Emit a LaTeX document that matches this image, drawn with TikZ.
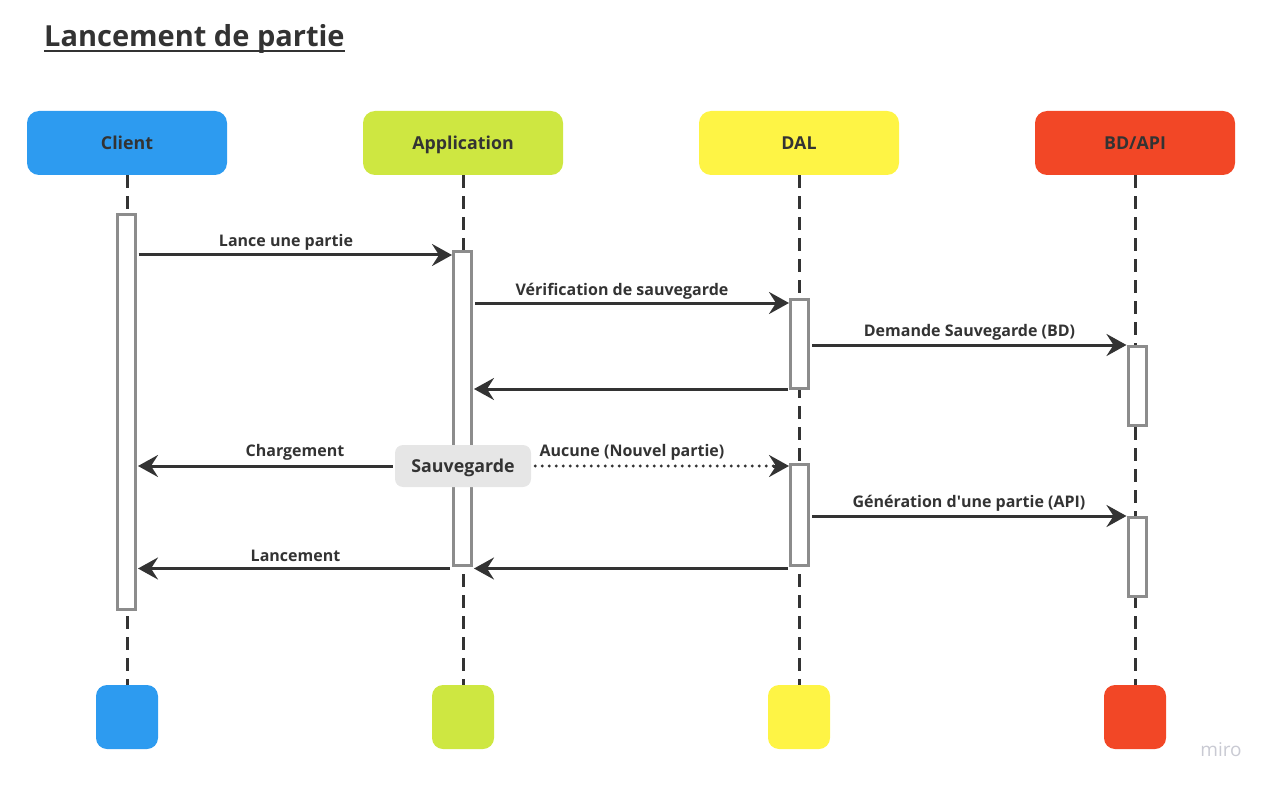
\documentclass[tikz,border=0pt]{standalone}
\usepackage{fontspec}
\setmainfont{Open Sans}
\usetikzlibrary{arrows.meta,calc}
\definecolor{cblue}{HTML}{2D9BF0}
\definecolor{cgreen}{HTML}{CEE741}
\definecolor{cyellow}{HTML}{FEF445}
\definecolor{cred}{HTML}{F24726}
\definecolor{ink}{HTML}{333333}
\definecolor{actgray}{HTML}{8C8C8C}
\definecolor{svgray}{HTML}{E6E6E6}
\definecolor{mirogray}{HTML}{C9CAD3}
\newcommand{\straightquote}{\XeTeXglyph\XeTeXcharglyph"27\relax}
\begin{document}
\begin{tikzpicture}[x=1pt,y=-1pt,
 head/.style={rounded corners=12pt, minimum width=200pt, minimum height=64pt, inner sep=0pt, text height=13pt, text depth=0pt, font=\fontsize{17.8}{20}\selectfont\bfseries, text=ink},
 foot/.style={rounded corners=11pt, minimum width=62pt, minimum height=64pt, inner sep=0pt},
 life/.style={ink, line width=3pt, dash pattern=on 13pt off 8pt},
 act/.style={draw=actgray, fill=white, line width=3pt, minimum width=18pt, inner sep=0pt},
 msg/.style={ink, line width=3pt, -{Stealth[length=20pt,width=22pt,inset=7pt]}},
 dotmsg/.style={ink, line width=3.3pt, line cap=round, dash pattern=on 0pt off 7pt},
 tipmsg/.style={ink, line width=3pt, -{Stealth[length=20pt,width=22pt,inset=7pt]}},
 lbl/.style={font=\fontsize{16}{19}\selectfont\bfseries, text=ink, inner sep=0pt, anchor=base},
]
\useasboundingbox (0,0) rectangle (1271,786);

% title
\node[font=\fontsize{29}{34}\selectfont\bfseries, text=ink, inner sep=0pt, anchor=base west] (title) at (44,47) {Lancement de partie};
\draw[ink, line width=2pt] ($(title.base west)+(0,4)$) -- ($(title.base east)+(0,4)$);

% headers
\node[head, fill=cblue] (hc) at (127,143) {Client};
\node[head, fill=cgreen] (ha) at (463,143) {Application};
\node[head, fill=cyellow] (hd) at (799,143) {DAL};
\node[head, fill=cred] (hb) at (1135,143) {BD/API};

% footers
\node[foot, fill=cblue] (fc) at (127,717) {};
\node[foot, fill=cgreen] (fa) at (463,717) {};
\node[foot, fill=cyellow] (fd) at (799,717) {};
\node[foot, fill=cred] (fb) at (1135,717) {};

% lifelines
\draw[life] (hc.south) -- (fc.north);
\draw[life] (ha.south) -- (fa.north);
\draw[life] (hd.south) -- (fd.north);
\draw[life] (hb.south) -- (fb.north);

% activations
\node[act, minimum height=395pt] (ac) at (126.5,412) {};
\node[act, minimum height=314pt] (aa) at (462.5,408.5) {};
\node[act, minimum height=89pt] (ad1) at (799.5,344) {};
\node[act, minimum height=101pt] (ad2) at (799.5,515) {};
\node[act, minimum height=79pt] (ab1) at (1137,386) {};
\node[act, minimum height=79pt] (ab2) at (1137,557) {};

% message levels
\coordinate (m1) at (0,255);
\coordinate (m2) at (0,303);
\coordinate (m3) at (0,345);
\coordinate (m4) at (0,389);
\coordinate (m6) at (0,516);
\coordinate (m7) at (0,568.5);

% save box
\node[rounded corners=8pt, fill=svgray, minimum width=136pt, minimum height=42pt, inner sep=0pt, text height=13pt, text depth=0pt, font=\fontsize{17.8}{20}\selectfont\bfseries, text=ink] (sv) at (463,466) {Sauvegarde};

% messages
\draw[msg] ([xshift=1.5pt]ac.east |- m1) -- (aa.west |- m1);
\draw[msg] ([xshift=2pt]aa.east |- m2) -- (ad1.west |- m2);
\draw[msg] ([xshift=2pt]ad1.east |- m3) -- (ab1.west |- m3);
\draw[msg] ([xshift=-1pt]ad1.west |- m4) -- ([xshift=1pt]aa.east |- m4);
\draw[msg] ([xshift=-2pt]sv.west) -- ([xshift=1pt]ac.east |- sv.west);
\draw[dotmsg] ([xshift=4pt]sv.east) -- ([xshift=-14pt]ad2.west |- sv.east);
\draw[tipmsg] ([xshift=-16pt]ad2.west |- sv.east) -- (ad2.west |- sv.east);
\draw[msg] ([xshift=2pt]ad2.east |- m6) -- (ab2.west |- m6);
\draw[msg] ([xshift=-1pt]ad2.west |- m7) -- ([xshift=1pt]aa.east |- m7);
\draw[msg] ([xshift=-2pt]aa.west |- m7) -- ([xshift=1pt]ac.east |- m7);

% labels
\node[lbl] (l1) at (286,247) {Lance une partie};
\node[lbl] (l2) at (622,295) {Vérification de sauvegarde};
\node[lbl] (l3) at (969.5,336) {Demande Sauvegarde (BD)};
\node[lbl] (l4) at (295,456) {Chargement};
\node[lbl] (l5) at (632,456) {Aucune (Nouvel partie)};
\node[lbl] (l6) at (969,507) {Génération d\straightquote une partie (API)};
\node[lbl] (l7) at (295.5,561) {Lancement};

% watermark
\node[font=\fontsize{19}{22}\selectfont, text=mirogray, inner sep=0pt, anchor=base] (miro) at (1221,756) {miro};
\end{tikzpicture}
\end{document}
